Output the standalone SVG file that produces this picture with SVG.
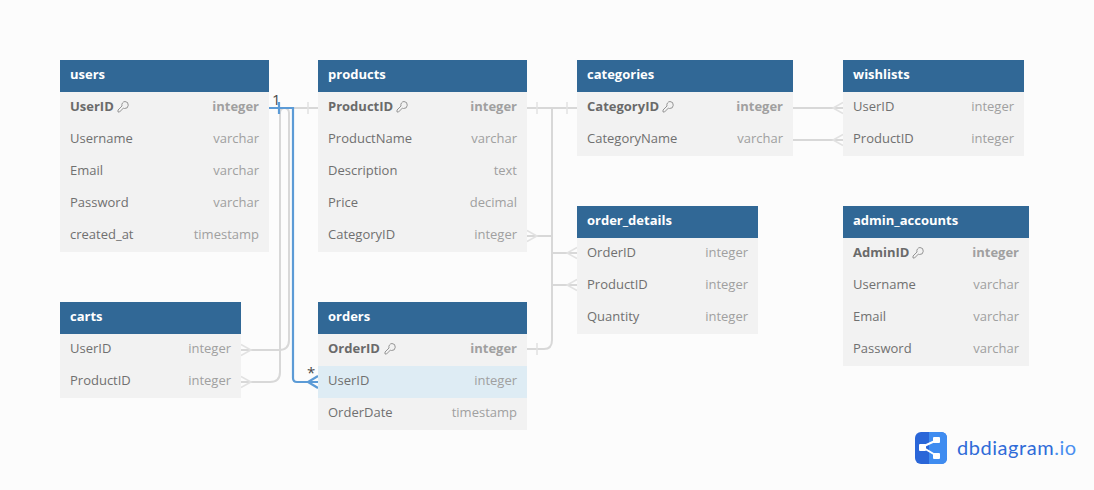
<svg xmlns="http://www.w3.org/2000/svg" width="1094" height="490" viewBox="0 0 1094 490">
<style>
.bg{fill:#fcfcfc}
.head{fill:#316896}
.body{fill:#f2f2f2}
.hl{fill:#deecf4}
text{font-family:"Open Sans","Noto Sans",sans-serif;font-size:13px}
.t{fill:#fff;font-weight:700}
.f{fill:#707070}
.y{fill:#a0a0a0;text-anchor:end}
.pk{font-weight:700}
.pk.f{fill:#6a6a6a}
.c{fill:none;stroke:#d8d8d8;stroke-width:2}
.d{fill:none;stroke:#e2e2e2;stroke-width:1.5}
.b{fill:none;stroke:#5c9bd6;stroke-width:2.2}
.k{fill:none;stroke:#8a8a8a;stroke-width:.9}
.lab{fill:#4a4a4a;font-size:15px}
.logo{font-family:"Lato",sans-serif;font-size:20px;letter-spacing:.55px;fill:#2f6bd8}
</style>
<defs>
<g id="key"><path class="k" d="M7 .5a3.5 3.5 0 1 1 -.5 7l-1 -.5L1.5 11H0V9L4 5a3.500 3.500 0 0 1 3 -4.500Z"/></g>
</defs>
<rect class="bg" width="1094" height="490"/>
<g id="connectors">
<path class="c" d="M269 108H284Q289 108 289 113V340Q289 350 279 350H241"/>
<path class="c" d="M318 108H285Q280 108 280 113V372Q280 382 270 382H241"/>
<path class="d" d="M308 102V114"/>
<path class="d" d="M241 344.500L251 350L241 355.500M241 376.500L251 382L241 387.500"/>
<path class="c" d="M527 108H577"/><path class="d" d="M537 102V114M567 102V114"/>
<path class="c" d="M552 108V340Q552 349 544 349H527"/><path class="d" d="M537 343V355"/>
<path class="c" d="M527 236H552"/><path class="d" d="M527 230.500L537 236L527 241.500"/>
<path class="c" d="M552 253H577"/><path class="d" d="M577 247.500L567 253L577 258.500"/>
<path class="c" d="M552 285H577"/><path class="d" d="M577 279.500L567 285L577 290.500"/>
<path class="c" d="M793 108H843"/><path class="d" d="M843 102.500L833 108L843 113.500"/>
<path class="c" d="M793 140H843"/><path class="d" d="M843 134.500L833 140L843 145.500"/>
<path class="b" d="M269 108H293V378Q293 382 297 382H318"/>
<path class="b" d="M279 102V114M318 376L308 382L318 388"/>
<text class="lab" x="272" y="105">1</text>
<text class="lab" x="307" y="378">*</text>
</g>
<g id="users">
<rect class="head" x="60" y="60" width="209" height="32"/><rect class="body" x="60" y="92" width="209" height="160"/>
<text class="t" x="70" y="79">users</text>
<text class="f pk" x="70" y="111">UserID</text><use href="#key" x="118" y="101"/><text class="y pk" x="259" y="111">integer</text>
<text class="f" x="70" y="143">Username</text><text class="y" x="259" y="143">varchar</text>
<text class="f" x="70" y="175">Email</text><text class="y" x="259" y="175">varchar</text>
<text class="f" x="70" y="207">Password</text><text class="y" x="259" y="207">varchar</text>
<text class="f" x="70" y="239">created_at</text><text class="y" x="259" y="239">timestamp</text>
</g>
<g id="products">
<rect class="head" x="318" y="60" width="209" height="32"/><rect class="body" x="318" y="92" width="209" height="160"/>
<text class="t" x="328" y="79">products</text>
<text class="f pk" x="328" y="111">ProductID</text><use href="#key" x="397" y="101"/><text class="y pk" x="517" y="111">integer</text>
<text class="f" x="328" y="143">ProductName</text><text class="y" x="517" y="143">varchar</text>
<text class="f" x="328" y="175">Description</text><text class="y" x="517" y="175">text</text>
<text class="f" x="328" y="207">Price</text><text class="y" x="517" y="207">decimal</text>
<text class="f" x="328" y="239">CategoryID</text><text class="y" x="517" y="239">integer</text>
</g>
<g id="categories">
<rect class="head" x="577" y="60" width="216" height="32"/><rect class="body" x="577" y="92" width="216" height="64"/>
<text class="t" x="587" y="79">categories</text>
<text class="f pk" x="587" y="111">CategoryID</text><use href="#key" x="663" y="101"/><text class="y pk" x="783" y="111">integer</text>
<text class="f" x="587" y="143">CategoryName</text><text class="y" x="783" y="143">varchar</text>
</g>
<g id="wishlists">
<rect class="head" x="843" y="60" width="181" height="32"/><rect class="body" x="843" y="92" width="181" height="64"/>
<text class="t" x="853" y="79">wishlists</text>
<text class="f" x="853" y="111">UserID</text><text class="y" x="1014" y="111">integer</text>
<text class="f" x="853" y="143">ProductID</text><text class="y" x="1014" y="143">integer</text>
</g>
<g id="order_details">
<rect class="head" x="577" y="206" width="181" height="32"/><rect class="body" x="577" y="238" width="181" height="96"/>
<text class="t" x="587" y="225">order_details</text>
<text class="f" x="587" y="257">OrderID</text><text class="y" x="748" y="257">integer</text>
<text class="f" x="587" y="289">ProductID</text><text class="y" x="748" y="289">integer</text>
<text class="f" x="587" y="321">Quantity</text><text class="y" x="748" y="321">integer</text>
</g>
<g id="admin_accounts">
<rect class="head" x="843" y="206" width="186" height="32"/><rect class="body" x="843" y="238" width="186" height="128"/>
<text class="t" x="853" y="225">admin_accounts</text>
<text class="f pk" x="853" y="257">AdminID</text><use href="#key" x="913" y="247"/><text class="y pk" x="1019" y="257">integer</text>
<text class="f" x="853" y="289">Username</text><text class="y" x="1019" y="289">varchar</text>
<text class="f" x="853" y="321">Email</text><text class="y" x="1019" y="321">varchar</text>
<text class="f" x="853" y="353">Password</text><text class="y" x="1019" y="353">varchar</text>
</g>
<g id="carts">
<rect class="head" x="60" y="302" width="181" height="32"/><rect class="body" x="60" y="334" width="181" height="64"/>
<text class="t" x="70" y="321">carts</text>
<text class="f" x="70" y="353">UserID</text><text class="y" x="231" y="353">integer</text>
<text class="f" x="70" y="385">ProductID</text><text class="y" x="231" y="385">integer</text>
</g>
<g id="orders">
<rect class="head" x="318" y="302" width="209" height="32"/><rect class="body" x="318" y="334" width="209" height="96"/><rect class="hl" x="318" y="366" width="209" height="32"/>
<text class="t" x="328" y="321">orders</text>
<text class="f pk" x="328" y="353">OrderID</text><use href="#key" x="385" y="343"/><text class="y pk" x="517" y="353">integer</text>
<text class="f" x="328" y="385">UserID</text><text class="y" x="517" y="385">integer</text>
<text class="f" x="328" y="417">OrderDate</text><text class="y" x="517" y="417">timestamp</text>
</g>
<g id="logo">
<rect x="915" y="432" width="32" height="32" rx="6" fill="#2a66d8"/>
<path d="M929 432H941Q947 432 947 438V458Q947 464 941 464H929Z" fill="#3f8cf0"/>
<path d="M922 447L937 440M922 447L937 456" stroke="#fff" stroke-width="2" fill="none"/>
<rect x="919" y="444" width="7" height="7" rx="1" fill="#fff"/><rect x="933" y="437" width="7" height="6" rx="1" fill="#fff"/><rect x="933" y="453" width="7" height="6" rx="1" fill="#fff"/>
<text class="logo" x="957" y="455">dbdiagram<tspan fill="#4a90f0">.io</tspan></text>
</g>
</svg>
